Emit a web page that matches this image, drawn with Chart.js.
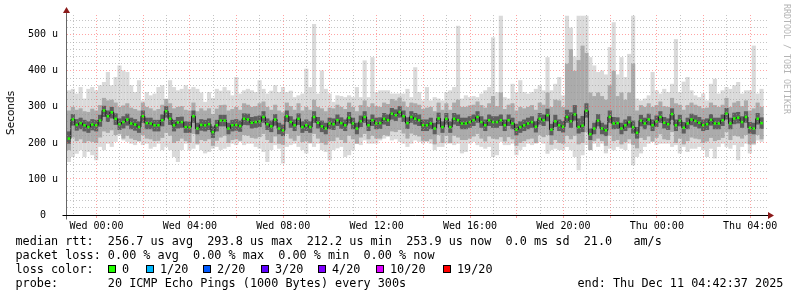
<!DOCTYPE html>
<html lang="en">
<head>
<meta charset="UTF-8">
<title>Smokeping latency</title>
<script src="https://cdn.jsdelivr.net/npm/chart.js"></script>
<style>
  body { margin: 0; background: #fff; }
  #wrap { position: relative; width: 797px; height: 297px; overflow: hidden; font-family: "DejaVu Sans Mono", monospace; color: #000; }
  #wrap canvas { position: absolute; left: 0; top: 0; }
  .ytitle { position: absolute; left: 10px; top: 113px; transform: translate(-50%, -50%) rotate(-90deg);
            font: normal 10.5px "DejaVu Sans", sans-serif; white-space: nowrap; }
  .credit { position: absolute; left: 783px; top: 4px; writing-mode: vertical-rl; font-size: 8.3px; line-height: 8px;
            color: #b4b4b4; white-space: nowrap; }
  .line { position: absolute; left: 15.5px; height: 14px; line-height: 14px; font-size: 11.8px; white-space: pre; }
  .box { position: absolute; top: 265px; width: 8px; height: 8px; box-sizing: border-box; border: 1px solid #000; }
</style>
</head>
<body>
<div id="wrap">
  <canvas id="chart"></canvas>
  <div class="ytitle">Seconds</div>
  <div class="credit">RRDTOOL / TOBI OETIKER</div>
  <div class="line" style="top:234px">median rtt:  256.7 us avg  293.8 us max  212.2 us min  253.9 us now  0.0 ms sd  21.0   am/s</div>
  <div class="line" style="top:248px">packet loss: 0.00 % avg  0.00 % max  0.00 % min  0.00 % now</div>
  <div class="line" style="top:262px">loss color:</div>
  <div id="lossLegend"></div>
  <div class="line" style="top:276px">probe:       20 ICMP Echo Pings (1000 Bytes) every 300s</div>
  <div class="line" style="top:276px; left:577.5px">end: Thu Dec 11 04:42:37 2025</div>
</div>
<script>
// 10 minute columns, hours relative to Wed 00:00
const startHour = -1.264;
const stepHour = 1 / 6;

// median rtt (us)
const med = [212,265,250,255,249,244,251,249,262,290,274,285,267,252,258,265,254,251,244,274,255,254,249,249,263,288,267,249,257,258,
  244,244,274,240,250,249,252,230,249,262,262,240,249,250,247,267,265,256,258,260,272,252,246,265,240,235,274,258,249,267,244,
  249,244,272,256,246,240,254,252,263,255,249,270,254,240,260,272,249,263,254,255,267,263,281,277,286,274,255,272,267,263,249,
  249,254,240,268,244,267,244,267,263,254,254,258,263,272,258,249,263,258,258,263,249,263,254,237,244,249,254,258,245,267,263,
  277,237,260,249,245,272,260,279,244,248,289,224,240,262,240,235,272,254,255,240,249,258,244,228,262,254,265,249,260,272,256,
  252,280,249,262,242,254,265,261,256,249,252,264,254,254,263,281,254,268,270,258,272,242,240,267,255];

// slowest / fastest ping of each column
const maxPing = [346,350,337,355,323,350,355,346,360,369,397,360,383,415,401,397,360,341,374,318,341,332,337,355,360,323,374,355,346,350,
  360,350,355,350,340,314,341,325,350,345,355,346,332,383,337,346,350,346,341,374,350,337,345,360,341,355,341,345,327,332,337,
  406,355,530,337,401,350,337,314,332,330,327,332,327,355,327,429,327,438,341,346,346,346,337,337,337,337,350,327,410,341,318,
  355,318,327,323,318,341,346,355,525,323,332,327,330,327,337,346,355,493,341,553,327,323,364,341,374,341,337,341,350,360,346,
  438,346,364,383,332,553,520,440,553,553,553,438,415,397,401,390,466,535,390,438,383,447,553,323,318,323,332,397,346,337,350,
  341,364,488,341,370,383,346,332,327,337,318,364,378,337,346,355,350,360,369,337,346,346,470,337,350];
const minPing = [147,161,170,180,161,175,166,152,189,180,198,189,203,221,207,203,198,194,203,194,198,184,189,198,180,189,180,161,147,180,
  198,180,184,194,180,171,175,184,189,180,184,189,198,194,203,194,198,198,189,184,175,147,180,194,184,143,189,194,198,189,180,
  171,198,189,198,180,175,152,180,185,189,161,166,180,198,194,207,198,198,198,207,212,217,207,210,203,198,189,198,207,203,198,
  203,198,180,189,189,198,198,194,198,171,175,198,203,194,189,184,189,161,166,203,194,194,198,166,180,189,198,194,198,203,198,
  170,180,184,180,180,189,180,161,124,166,194,180,198,189,198,171,184,180,189,184,180,198,138,161,171,189,198,203,194,198,198,
  198,189,194,171,189,175,184,184,189,180,161,184,157,189,198,189,184,194,152,189,198,171,194,207,203];

// outer smoke band
const midHi = [290,300,292,296,288,286,295,290,305,325,318,320,312,300,304,310,298,294,290,312,300,296,290,294,306,322,310,296,300,302,
  292,290,312,288,296,290,296,280,295,305,306,290,294,300,292,310,306,300,302,310,315,300,292,306,290,285,312,302,292,310,290,
  300,292,320,300,296,288,298,296,306,300,294,312,300,288,305,318,300,310,302,300,312,308,322,318,326,315,300,312,310,306,294,
  298,300,288,312,292,310,292,312,320,300,300,304,306,315,305,298,310,330,302,340,294,306,310,290,300,296,300,305,292,312,306,
  340,300,320,318,300,420,460,400,430,470,450,340,330,340,330,320,360,400,330,340,320,340,420,290,305,300,310,300,305,315,302,
  300,325,310,306,292,305,312,306,302,296,298,312,305,300,306,325,300,312,316,302,318,290,296,312,300];
const midLo = [180,215,205,210,200,205,203,200,215,232,228,235,222,225,212,220,212,208,205,222,212,210,205,206,214,228,220,200,205,212,
  205,200,225,198,208,205,210,192,206,215,220,200,208,210,206,222,220,214,212,216,225,208,200,218,198,195,225,212,206,220,202,
  205,200,225,212,200,195,205,205,215,208,200,220,210,198,215,225,210,220,212,212,222,220,232,230,236,226,212,226,222,218,206,
  205,210,196,222,200,220,200,220,215,208,208,212,218,225,212,204,218,212,210,216,204,216,210,192,200,205,210,212,200,222,216,
  222,195,208,200,198,220,210,220,196,200,230,180,205,212,205,192,220,205,208,196,202,210,195,185,214,208,218,204,214,224,210,
  208,230,200,212,196,205,215,212,210,200,204,214,205,208,214,230,208,220,218,212,222,196,198,222,210];

// inner smoke band
const coreHi = [232,280,266,270,264,260,266,264,278,303,290,300,282,268,274,281,270,266,260,290,270,270,264,264,279,302,283,264,272,273,
  260,259,290,256,266,264,268,246,264,278,278,256,264,266,262,282,281,272,274,276,288,268,262,280,256,251,290,274,265,282,260,
  265,260,288,272,262,256,270,268,279,271,265,286,270,256,276,288,265,279,270,271,283,279,297,293,302,290,271,288,283,279,265,
  265,270,256,284,260,283,260,283,279,270,270,274,279,288,274,265,279,274,274,279,265,279,270,253,260,265,270,274,261,283,279,
  295,253,278,265,261,292,285,305,268,275,310,240,256,280,256,251,290,272,271,256,265,274,262,244,278,270,281,265,276,288,272,
  268,296,265,278,258,270,281,277,272,265,268,280,270,270,279,297,270,284,286,274,288,258,256,283,271];
const coreLo = [198,248,234,238,232,228,235,232,245,272,258,268,250,236,240,248,238,234,228,256,238,238,232,232,246,270,250,232,240,242,
  228,228,256,224,234,232,236,214,232,246,246,224,232,234,231,250,249,240,242,244,256,236,230,248,224,219,258,242,233,250,228,
  233,228,256,240,230,224,238,236,247,239,233,254,238,224,244,256,233,247,238,239,251,247,265,261,270,258,239,256,251,247,233,
  233,238,224,252,228,251,228,251,247,238,238,242,247,256,242,233,247,242,242,247,233,247,238,221,228,233,238,242,229,251,247,
  260,221,244,233,229,256,242,262,226,230,270,208,224,246,224,219,256,238,239,224,233,242,226,212,246,238,249,233,244,256,240,
  236,264,233,246,226,238,249,245,240,233,236,248,238,238,247,265,238,252,254,242,256,226,224,251,239];

const lossLabels = ['0', '1/20', '2/20', '3/20', '4/20', '10/20', '19/20'];
const lossColors = ['#22ff00', '#00b8ff', '#0059ff', '#5e00ff', '#7e00ff', '#dd00ff', '#ff0000'];
const dayNames = ['Wed', 'Thu'];

const times = med.map((_, i) => +(startHour + (i + 0.5) * stepHour).toFixed(4));

// loss colour legend
const boxX = [108, 146, 203, 261, 318, 376, 443];
const legend = document.getElementById('lossLegend');
lossLabels.forEach((lab, i) => {
    const box = document.createElement('div');
    box.className = 'box';
    box.style.left = boxX[i] + 'px';
    box.style.background = lossColors[i];
    legend.appendChild(box);
    const txt = document.createElement('div');
    txt.className = 'line';
    txt.style.top = '262px';
    txt.style.left = (boxX[i] + 14) + 'px';
    txt.textContent = lab;
    legend.appendChild(txt);
});

function band(lo, hi) {
    return times.map((t, i) => ({x: t, y: [lo[i], hi[i]]}));
}

function smoke(label, lo, hi, color, order) {
    return {
        type: 'bar', label: label, data: band(lo, hi),
        backgroundColor: color, borderWidth: 0, grouped: false,
        barPercentage: 1.06, categoryPercentage: 1, order: order
    };
}

const majorGrid = 'rgba(255, 90, 90, 0.55)';
const minorGrid = 'rgba(150, 150, 150, 0.55)';

// axis lines with the little rrdtool arrows
const axisArrows = {
    id: 'axisArrows',
    afterDraw(chart) {
        const {ctx, chartArea: a} = chart;
        const x0 = a.left - 0.5, y0 = a.bottom + 0.5;
        ctx.save();
        ctx.lineWidth = 1;
        ctx.strokeStyle = '#666';
        ctx.beginPath();
        ctx.moveTo(x0, y0 + 4);
        ctx.lineTo(x0, a.top - 3);
        ctx.stroke();
        ctx.strokeStyle = '#000';
        ctx.beginPath();
        ctx.moveTo(x0 - 4, y0);
        ctx.lineTo(a.right + 2, y0);
        ctx.stroke();
        ctx.fillStyle = '#8b1a1a';
        ctx.beginPath();
        ctx.moveTo(x0 - 3.5, a.top - 2);
        ctx.lineTo(x0 + 3.5, a.top - 2);
        ctx.lineTo(x0, a.top - 8);
        ctx.closePath();
        ctx.fill();
        ctx.beginPath();
        ctx.moveTo(a.right + 1, y0 - 3.5);
        ctx.lineTo(a.right + 1, y0 + 3.5);
        ctx.lineTo(a.right + 7, y0);
        ctx.closePath();
        ctx.fill();
        ctx.restore();
    }
};

new Chart(document.getElementById('chart'), {
    type: 'bar',
    data: {
        datasets: [
            {
                type: 'line', label: 'median', data: times.map((t, i) => ({x: t, y: med[i]})),
                borderColor: '#1e1e1e', borderWidth: 1, stepped: 'middle',
                pointStyle: 'rect', pointRadius: 1.8, pointBackgroundColor: '#22ff00', pointBorderWidth: 0,
                order: 0
            },
            smoke('core', coreLo, coreHi, '#5e5e5e', 1),
            smoke('mid', midLo, midHi, '#ababab', 2),
            smoke('range', minPing, maxPing, '#dadada', 3)
        ]
    },
    options: {
        responsive: true,
        maintainAspectRatio: false,
        animation: false,
        layout: {padding: {left: 0, right: 30, top: 14, bottom: 0}},
        plugins: {legend: {display: false}, tooltip: {enabled: false}},
        scales: {
            x: {
                type: 'linear',
                offset: false,
                min: startHour,
                max: 28.72,
                afterFit: s => { s.height = 82; },
                grid: {
                    z: 1, lineWidth: 1, drawTicks: true, tickLength: 3, offset: false,
                    color: c => (c.tick && c.tick.value % 2 === 0 ? majorGrid : minorGrid),
                    tickColor: c => (c.tick && c.tick.value % 2 === 0 ? majorGrid : 'rgba(0,0,0,0)')
                },
                border: {display: false, dash: [1, 2]},
                ticks: {
                    stepSize: 1, includeBounds: false, autoSkip: false, maxRotation: 0, padding: 2,
                    color: '#000', font: {family: 'DejaVu Sans Mono', size: 10},
                    callback: v => (v % 4 === 0
                        ? dayNames[Math.floor(v / 24)] + ' ' + String(v % 24).padStart(2, '0') + ':00'
                        : '')
                }
            },
            y: {
                min: 0,
                max: 555,
                afterFit: s => { s.width = 67; },
                grid: {
                    z: 1, lineWidth: 1, drawTicks: false,
                    color: c => (c.tick && c.tick.value % 100 === 0 ? majorGrid : minorGrid)
                },
                border: {display: false, dash: [1, 2]},
                ticks: {
                    stepSize: 20, includeBounds: false, autoSkip: false, padding: 9,
                    color: '#000', font: {family: 'DejaVu Sans Mono', size: 10},
                    callback: v => (v % 100 ? '' : (v === 0 ? '0  ' : v + ' u'))
                }
            }
        }
    },
    plugins: [axisArrows]
});
</script>
</body>
</html>
